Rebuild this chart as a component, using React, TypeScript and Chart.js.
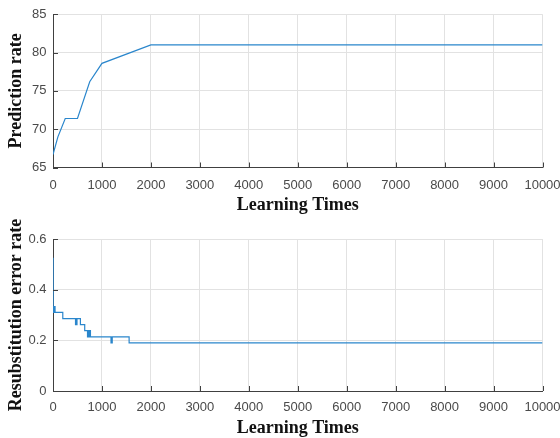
import React, { useEffect, useRef } from 'react';
import { Chart, registerables } from 'chart.js';

Chart.register(...registerables);

// ---- data ----
const predX = [0, 100, 250, 500, 750, 1000, 2000, 10000];
const predY = [66.7, 69.0, 71.4, 71.4, 76.2, 78.6, 81.0, 81.0];

const errX = [0, 3, 10, 18, 26, 34, 42, 50, 200, 460, 470, 480, 490, 560, 648, 705, 720, 735, 750, 765, 785, 1185, 1210, 1555, 10000];
const errY = [0.524, 0.333, 0.31, 0.333, 0.31, 0.333, 0.31, 0.31, 0.286, 0.262, 0.286, 0.262, 0.286, 0.262, 0.238, 0.214, 0.238, 0.214, 0.238, 0.214, 0.214, 0.19, 0.214, 0.19, 0.19];

const xTitle = 'Learning Times';
const predTitle = 'Prediction rate';
const errTitle = 'Resubstitution error rate';

const LINE_COLOR = '#2a86cc';
const AXIS_COLOR = '#404040';
const GRID_COLOR = '#e2e2e2';
const TICK_COLOR = '#4a4a4a';
const TICK_FONT = { family: '"Liberation Sans", Arial, sans-serif', size: 13 };
const TITLE_FONT = 'bold 18px "Liberation Serif", "Times New Roman", serif';

function decorPlugin(xT: string, yT: string, xTitleOffset: number) {
  return {
    id: 'matlabDecor',
    afterDraw(chart: any) {
      const { ctx, chartArea: a, scales } = chart;
      const xs = scales.x;
      const ys = scales.y;
      ctx.save();
      ctx.strokeStyle = AXIS_COLOR;
      ctx.lineWidth = 1;
      ctx.beginPath();
      xs.ticks.forEach((t: any) => {
        const px = Math.round(xs.getPixelForValue(t.value)) + 0.5;
        ctx.moveTo(px, a.bottom);
        ctx.lineTo(px, a.bottom - 5);
      });
      ys.ticks.forEach((t: any) => {
        const py = Math.round(ys.getPixelForValue(t.value)) + 0.5;
        ctx.moveTo(a.left, py);
        ctx.lineTo(a.left + 5, py);
      });
      ctx.stroke();
      ctx.fillStyle = '#111';
      ctx.font = TITLE_FONT;
      ctx.textAlign = 'center';
      ctx.textBaseline = 'middle';
      ctx.fillText(xT, (a.left + a.right) / 2, a.bottom + xTitleOffset);
      ctx.translate(16, (a.top + a.bottom) / 2);
      ctx.rotate(-Math.PI / 2);
      ctx.fillText(yT, 0, 0);
      ctx.restore();
    },
  };
}

function makeConfig(
  xs: number[],
  ys: number[],
  stepped: boolean,
  yMin: number,
  yMax: number,
  yStep: number,
  plotTop: number,
  xAxisHeight: number,
  xTickPad: number,
  xT: string,
  yT: string,
  xTitleOffset: number
): any {
  return {
    type: 'line',
    data: {
      datasets: [
        {
          data: xs.map((x, i) => ({ x, y: ys[i] })),
          borderColor: LINE_COLOR,
          borderWidth: 1.2,
          pointRadius: 0,
          fill: false,
          tension: 0,
          stepped: stepped ? 'before' : false,
        },
      ],
    },
    options: {
      responsive: false,
      maintainAspectRatio: false,
      animation: false,
      events: [],
      layout: { padding: { left: 0, right: 17.5, top: plotTop, bottom: 0 } },
      plugins: { legend: { display: false }, tooltip: { enabled: false } },
      scales: {
        x: {
          type: 'linear',
          min: 0,
          max: 10000,
          ticks: {
            stepSize: 1000,
            autoSkip: false,
            maxRotation: 0,
            padding: xTickPad,
            color: TICK_COLOR,
            font: TICK_FONT,
            callback: (v: any) => String(v),
          },
          grid: { color: GRID_COLOR, drawTicks: false },
          border: { display: true, color: AXIS_COLOR, width: 1 },
          afterFit(scale: any) {
            scale.height = xAxisHeight;
            scale.paddingLeft = 0;
            scale.paddingRight = 0;
          },
        },
        y: {
          type: 'linear',
          min: yMin,
          max: yMax,
          ticks: {
            stepSize: yStep,
            padding: 6.5,
            color: TICK_COLOR,
            font: TICK_FONT,
            callback: (v: any) => String(Math.round(v * 10) / 10),
          },
          grid: { color: GRID_COLOR, drawTicks: false },
          border: { display: true, color: AXIS_COLOR, width: 1 },
          afterFit(scale: any) {
            scale.width = 53;
            scale.paddingTop = 0;
            scale.paddingBottom = 0;
          },
        },
      },
    },
    plugins: [decorPlugin(xT, yT, xTitleOffset)],
  };
}

export default function App() {
  const topRef = useRef<HTMLCanvasElement | null>(null);
  const botRef = useRef<HTMLCanvasElement | null>(null);

  useEffect(() => {
    const c1 = new Chart(
      topRef.current as HTMLCanvasElement,
      makeConfig(predX, predY, false, 65, 85, 5, 14.3, 219 - 167.5, 10, xTitle, predTitle, 38)
    );
    const c2 = new Chart(
      botRef.current as HTMLCanvasElement,
      makeConfig(errX, errY, true, 0, 0.6, 0.2, 20, 219 - 172, 8.5, xTitle, errTitle, 37.5)
    );
    return () => {
      c1.destroy();
      c2.destroy();
    };
  }, []);

  return (
    <div style={{ position: 'absolute', left: 0, top: 0, width: 560, height: 438, background: '#fff' }}>
      <canvas ref={topRef} width={560} height={219} style={{ display: 'block', width: 560, height: 219 }} />
      <canvas ref={botRef} width={560} height={219} style={{ display: 'block', width: 560, height: 219 }} />
    </div>
  );
}
